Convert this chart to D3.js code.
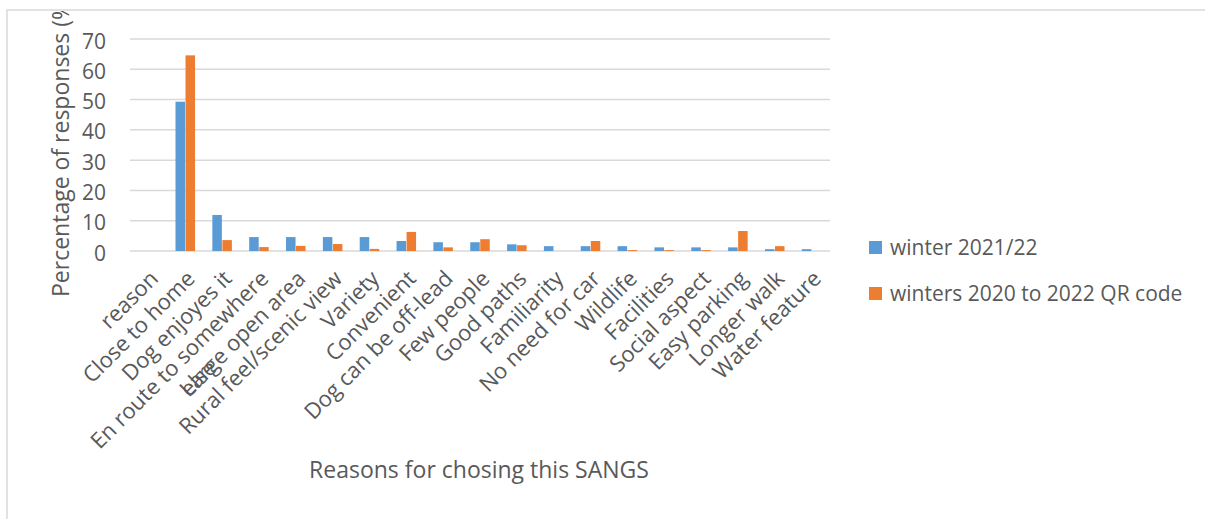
<!DOCTYPE html>
<html lang="en">
<head>
  <meta charset="UTF-8">
  <title>Reasons for chosing this SANGS</title>
  <script src="https://d3js.org/d3.v7.min.js"></script>
  <style>
    body { margin: 0; background: white; }
    svg { display: block; font-family: "Open Sans", sans-serif; }
    text { fill: #595959; }
  </style>
</head>
<body>
  <div id="chart"></div>
  <script>
    const categories = ['reason', 'Close to home', 'Dog enjoyes it', 'En route to somewhere\nelse',
      'Large open area', 'Rural feel/scenic view', 'Variety', 'Convenient', 'Dog can be off-lead',
      'Few people', 'Good paths', 'Familiarity', 'No need for car', 'Wildlife', 'Facilities',
      'Social aspect', 'Easy parking', 'Longer walk', 'Water feature']
    const winter2122 = [0, 49.3, 11.9, 4.6, 4.6, 4.6, 4.6, 3.3, 2.9, 2.9, 2.2, 1.6, 1.6, 1.6, 1.2, 1.2, 1.2, 0.6, 0.6]
    const winters2022QR = [0, 64.6, 3.6, 1.3, 1.7, 2.3, 0.7, 6.3, 1.2, 3.9, 1.9, 0, 3.3, 0.3, 0.3, 0.3, 6.6, 1.6, 0]
    const seriesNames = ['winter 2021/22', 'winters 2020 to 2022 QR code']
    const yTicks = [0, 10, 20, 30, 40, 50, 60, 70]

    const width = 1205
    const height = 519
    const colors = ['#5B9BD5', '#ED7D31']
    const plot = { left: 130, right: 830, top: 39, bottom: 251 }

    const svg = d3.select('#chart').append('svg')
      .attr('width', width)
      .attr('height', height)

    svg.append('clipPath').attr('id', 'frame-clip')
      .append('rect').attr('x', 7).attr('y', 11).attr('width', width).attr('height', height)

    // chart frame
    svg.append('rect')
      .attr('x', 7).attr('y', 10)
      .attr('width', width + 10).attr('height', height + 10)
      .attr('fill', 'none').attr('stroke', '#d9d9d9').attr('stroke-width', 1.5)

    const g = svg.append('g').attr('clip-path', 'url(#frame-clip)')

    // each category gets an equal slot; the bar pair is centred in it
    const x0 = d3.scaleBand()
      .domain(categories)
      .range([plot.left, plot.right])
      .paddingInner(0.47)
      .paddingOuter(0.235)

    const x1 = d3.scaleBand()
      .domain([0, 1])
      .range([0, x0.bandwidth()])
      .paddingInner(0.05)

    const y = d3.scaleLinear()
      .domain([0, 70])
      .range([plot.bottom, plot.top])

    // gridlines
    g.append('g').selectAll('line')
      .data(yTicks)
      .enter().append('line')
      .attr('x1', plot.left).attr('x2', plot.right)
      .attr('y1', d => y(d)).attr('y2', d => y(d))
      .attr('stroke', '#d9d9d9').attr('stroke-width', 1.5)

    g.append('g').selectAll('text')
      .data(yTicks)
      .enter().append('text')
      .attr('x', 106)
      .attr('y', d => y(d) + 4)
      .attr('text-anchor', 'end')
      .attr('dominant-baseline', 'middle')
      .style('font-size', '21px')
      .text(d => d)

    // bars
    const series = [winter2122, winters2022QR]
    series.forEach((vals, s) => {
      g.append('g').selectAll('rect')
        .data(vals)
        .enter().append('rect')
        .attr('x', (d, i) => x0(categories[i]) + x1(s))
        .attr('y', d => y(d))
        .attr('width', x1.bandwidth())
        .attr('height', d => y(0) - y(d))
        .attr('fill', colors[s])
    })

    // category labels, rotated 45 degrees
    const labels = g.append('g').selectAll('text')
      .data(categories)
      .enter().append('text')
      .attr('transform', d => `translate(${x0(d) + x0.bandwidth() / 2 + 11},${plot.bottom + 29}) rotate(-45)`)
      .attr('text-anchor', 'end')
      .style('font-size', '22px')

    labels.each(function (d) {
      const lines = d.split('\n')
      const t = d3.select(this)
      const first = t.append('tspan').attr('x', 0).text(lines[0])
      if (lines.length > 1) {
        const len = first.node().getComputedTextLength()
        t.append('tspan')
          .attr('x', -len / 2).attr('dy', '1.2em')
          .attr('text-anchor', 'middle')
          .text(lines[1])
      }
    })

    // axis titles
    g.append('text')
      .attr('transform', 'translate(69,297) rotate(-90)')
      .style('font-size', '23px')
      .text('Percentage of responses (%)')

    g.append('text')
      .attr('x', 479).attr('y', 478)
      .attr('text-anchor', 'middle')
      .style('font-size', '23px')
      .text('Reasons for chosing this SANGS')

    // legend
    const legend = g.append('g')
    seriesNames.forEach((name, i) => {
      legend.append('rect')
        .attr('x', 869).attr('y', 241 + i * 46)
        .attr('width', 13).attr('height', 13)
        .attr('fill', colors[i])
      legend.append('text')
        .attr('x', 890).attr('y', 255 + i * 46)
        .style('font-size', '21px')
        .text(name)
    })
  </script>
</body>
</html>
